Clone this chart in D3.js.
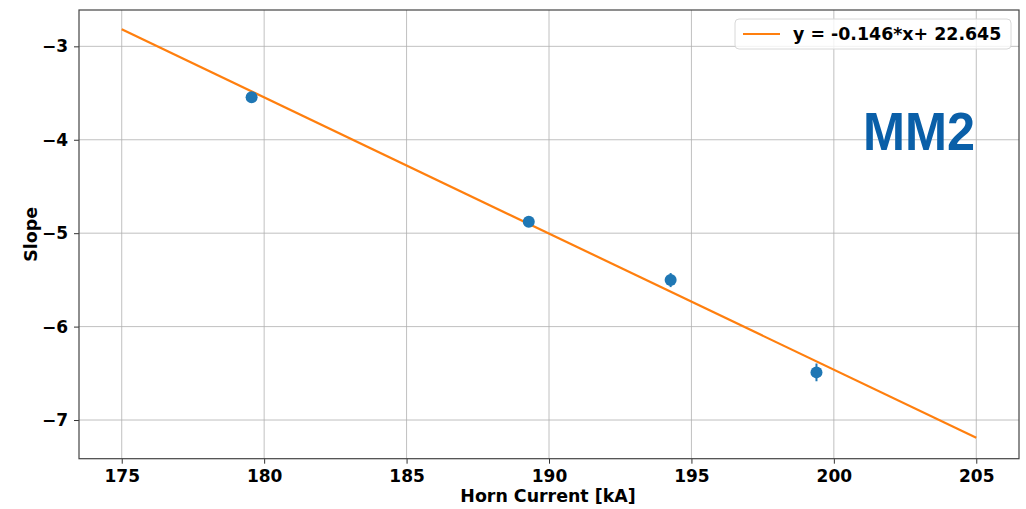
<!DOCTYPE html>
<html>
<head>
<meta charset="utf-8">
<script src="https://cdn.jsdelivr.net/npm/d3@7"></script>
<style>
  body { margin: 0; background: #fff; }
  text { font-family: "DejaVu Sans", sans-serif; font-weight: bold; }
</style>
</head>
<body>
<div id="main"></div>
<script>
// measured points (horn current, slope, error)
const currents = [179.56, 189.29, 194.27, 199.39]
const slopes = [-3.546, -4.878, -5.502, -6.49]
const errors = [0.04, 0.035, 0.075, 0.095]

// fit line endpoints
const fitX = [175, 205]
const fitY = [-2.818, -7.19]

const xTicks = [175, 180, 185, 190, 195, 200, 205]
const yTicks = [-7, -6, -5, -4, -3]
const legendLabel = 'y = -0.146*x+ 22.645'

const w = 1026, h = 509
const m = { left: 79, right: 1019, top: 10, bottom: 458.7 }

const svg = d3.select('#main').append('svg')
    .attr('width', w).attr('height', h)

const xScale = d3.scaleLinear().domain([173.5, 206.5]).range([m.left, m.right])
const yScale = d3.scaleLinear().domain([-7.414, -2.611]).range([m.bottom, m.top])

// grid //
svg.append('g').selectAll('line').data(xTicks).enter().append('line')
    .attr('x1', d => xScale(d)).attr('x2', d => xScale(d))
    .attr('y1', m.top).attr('y2', m.bottom)
    .attr('stroke', '#b0b0b0').attr('stroke-width', 0.8)
svg.append('g').selectAll('line').data(yTicks).enter().append('line')
    .attr('y1', d => yScale(d)).attr('y2', d => yScale(d))
    .attr('x1', m.left).attr('x2', m.right)
    .attr('stroke', '#b0b0b0').attr('stroke-width', 0.8)

// axes //
const xAxis = d3.axisBottom(xScale).tickValues(xTicks).tickFormat(d3.format('d'))
    .tickSizeOuter(0).tickSize(5).tickPadding(6)
const gx = svg.append('g').attr('transform', 'translate(0,' + m.bottom + ')').call(xAxis)
gx.selectAll('text').style('font-size', '17px').attr('fill', '#000')

const yAxis = d3.axisLeft(yScale).tickValues(yTicks).tickFormat(d => '\u2212' + Math.abs(d))
    .tickSizeOuter(0).tickSize(5).tickPadding(6)
const gy = svg.append('g').attr('transform', 'translate(' + m.left + ',0)').call(yAxis)
gy.selectAll('text').style('font-size', '17px').attr('fill', '#000')

gx.select('.domain').remove()
gy.select('.domain').remove()
svg.selectAll('.tick line').attr('stroke', '#333')

// frame
svg.append('rect')
    .attr('x', m.left).attr('y', m.top)
    .attr('width', m.right - m.left).attr('height', m.bottom - m.top)
    .attr('fill', 'none').attr('stroke', '#444').attr('stroke-width', 1.2)

// labels
svg.append('text').attr('x', 548).attr('y', 502)
    .attr('text-anchor', 'middle').style('font-size', '17.4px').text('Horn Current [kA]')
svg.append('text').attr('transform', 'translate(37,' + ((m.top + m.bottom) / 2) + ') rotate(-90)')
    .attr('text-anchor', 'middle').style('font-size', '17.4px').text('Slope')

// fit line
const line = d3.line().x(d => xScale(d[0])).y(d => yScale(d[1]))
svg.append('path').datum(fitX.map((x, i) => [x, fitY[i]]))
    .attr('d', line).attr('fill', 'none')
    .attr('stroke', '#ff7f0e').attr('stroke-width', 2.2)

// error bars + points
const pts = currents.map((c, i) => ({ x: c, y: slopes[i], e: errors[i] }))
svg.append('g').selectAll('line').data(pts).enter().append('line')
    .attr('x1', d => xScale(d.x)).attr('x2', d => xScale(d.x))
    .attr('y1', d => yScale(d.y - d.e)).attr('y2', d => yScale(d.y + d.e))
    .attr('stroke', '#1f77b4').attr('stroke-width', 2)
svg.append('g').selectAll('circle').data(pts).enter().append('circle')
    .attr('cx', d => xScale(d.x)).attr('cy', d => yScale(d.y)).attr('r', 6)
    .attr('fill', '#1f77b4')

// legend
const lg = svg.append('g').attr('transform', 'translate(735,19)')
lg.append('rect').attr('width', 276).attr('height', 30).attr('rx', 4)
    .attr('fill', 'rgba(255,255,255,0.8)').attr('stroke', '#d8d8d8')
lg.append('line').attr('x1', 8).attr('x2', 45).attr('y1', 15).attr('y2', 15)
    .attr('stroke', '#ff7f0e').attr('stroke-width', 2.2)
lg.append('text').attr('x', 58).attr('y', 21).style('font-size', '17.4px').text(legendLabel)

// tag
svg.append('text').attr('x', 863).attr('y', 150)
    .style('font-family', '"Liberation Sans", Arial, sans-serif')
    .style('font-size', '53px').attr('fill', '#0a5fa8')
    .attr('textLength', 112).attr('lengthAdjust', 'spacingAndGlyphs')
    .text('MM2')
</script>
</body>
</html>
